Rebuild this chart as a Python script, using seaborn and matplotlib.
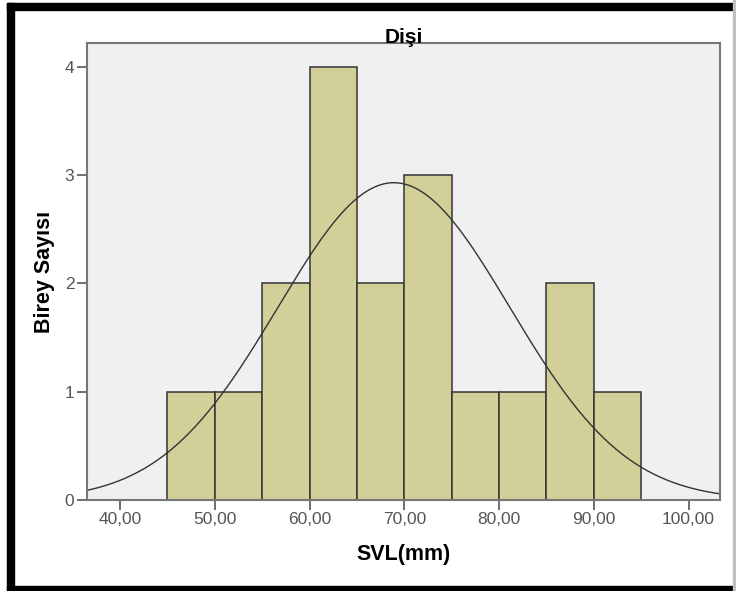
import numpy as np
import pandas as pd
import seaborn as sns
import matplotlib.pyplot as plt
from matplotlib.patches import Rectangle

# Histogram data (SVL in mm, females)
bin_edges = [45, 50, 55, 60, 65, 70, 75, 80, 85, 90, 95]
counts = [1, 1, 2, 4, 2, 3, 1, 1, 2, 1]
x_ticks = [40, 50, 60, 70, 80, 90, 100]
x_tick_labels = ["40,00", "50,00", "60,00", "70,00", "80,00", "90,00", "100,00"]
y_ticks = [0, 1, 2, 3, 4]

# Fitted normal curve parameters
mean_svl = 68.9
sd_svl = 12.25
n_total = sum(counts)
bin_width = 5

sns.set_style("white")
plt.rcParams['font.family'] = ['Liberation Sans', 'DejaVu Sans']

centers = [(a + b) / 2 for a, b in zip(bin_edges[:-1], bin_edges[1:])]
df = pd.DataFrame({"svl": centers, "n": counts})

fig = plt.figure(figsize=(7.36, 5.91), dpi=100)
ax = fig.add_axes([0.118, 0.154, 0.860, 0.773])
ax.set_facecolor("#f0f0f0")

sns.histplot(data=df, x="svl", weights="n", bins=bin_edges, ax=ax,
             color="#d3cf98", alpha=1, edgecolor="#333333", linewidth=1.1)

# Normal curve scaled to counts
xs = np.linspace(36.5, 103.3, 300)
ys = n_total * bin_width / (sd_svl * np.sqrt(2 * np.pi)) * np.exp(-0.5 * ((xs - mean_svl) / sd_svl) ** 2)
sns.lineplot(x=xs, y=ys, ax=ax, color="#333333", linewidth=1.0)

ax.set_xlim(36.5, 103.3)
ax.set_ylim(0, 4.22)
ax.set_xticks(x_ticks)
ax.set_xticklabels(x_tick_labels)
ax.set_yticks(y_ticks)
ax.tick_params(axis="both", direction="out", length=7, width=1.2, color="#555555",
               labelsize=12.5, labelcolor="#555555", bottom=True, left=True, pad=2)

for s in ax.spines.values():
    s.set_color("#777777")
    s.set_linewidth(1.5)

ax.set_xlabel("SVL(mm)", fontsize=15.5, fontweight="bold", color="black", labelpad=12)
ax.set_ylabel("Birey Sayısı", fontsize=15.5, fontweight="bold", color="black", labelpad=7)
ax.set_title("Dişi", fontsize=15, fontweight="bold", color="black", pad=0)

# Frame around the figure (thick black on left, top and bottom)
fig.patches.append(Rectangle((7 / 736, 0), 7 / 736, 1 - 3 / 591, transform=fig.transFigure,
                             color="black", zorder=10))
fig.patches.append(Rectangle((7 / 736, 1 - 10 / 591), 1 - 7 / 736, 7 / 591, transform=fig.transFigure,
                             color="black", zorder=10))
fig.patches.append(Rectangle((7 / 736, 0), 1 - 7 / 736, 5 / 591, transform=fig.transFigure,
                             color="black", zorder=10))
fig.patches.append(Rectangle((733 / 736, 0), 1.5 / 736, 1, transform=fig.transFigure,
                             color="#c0c0c0", zorder=10))

fig.savefig("out.png", dpi=100)
